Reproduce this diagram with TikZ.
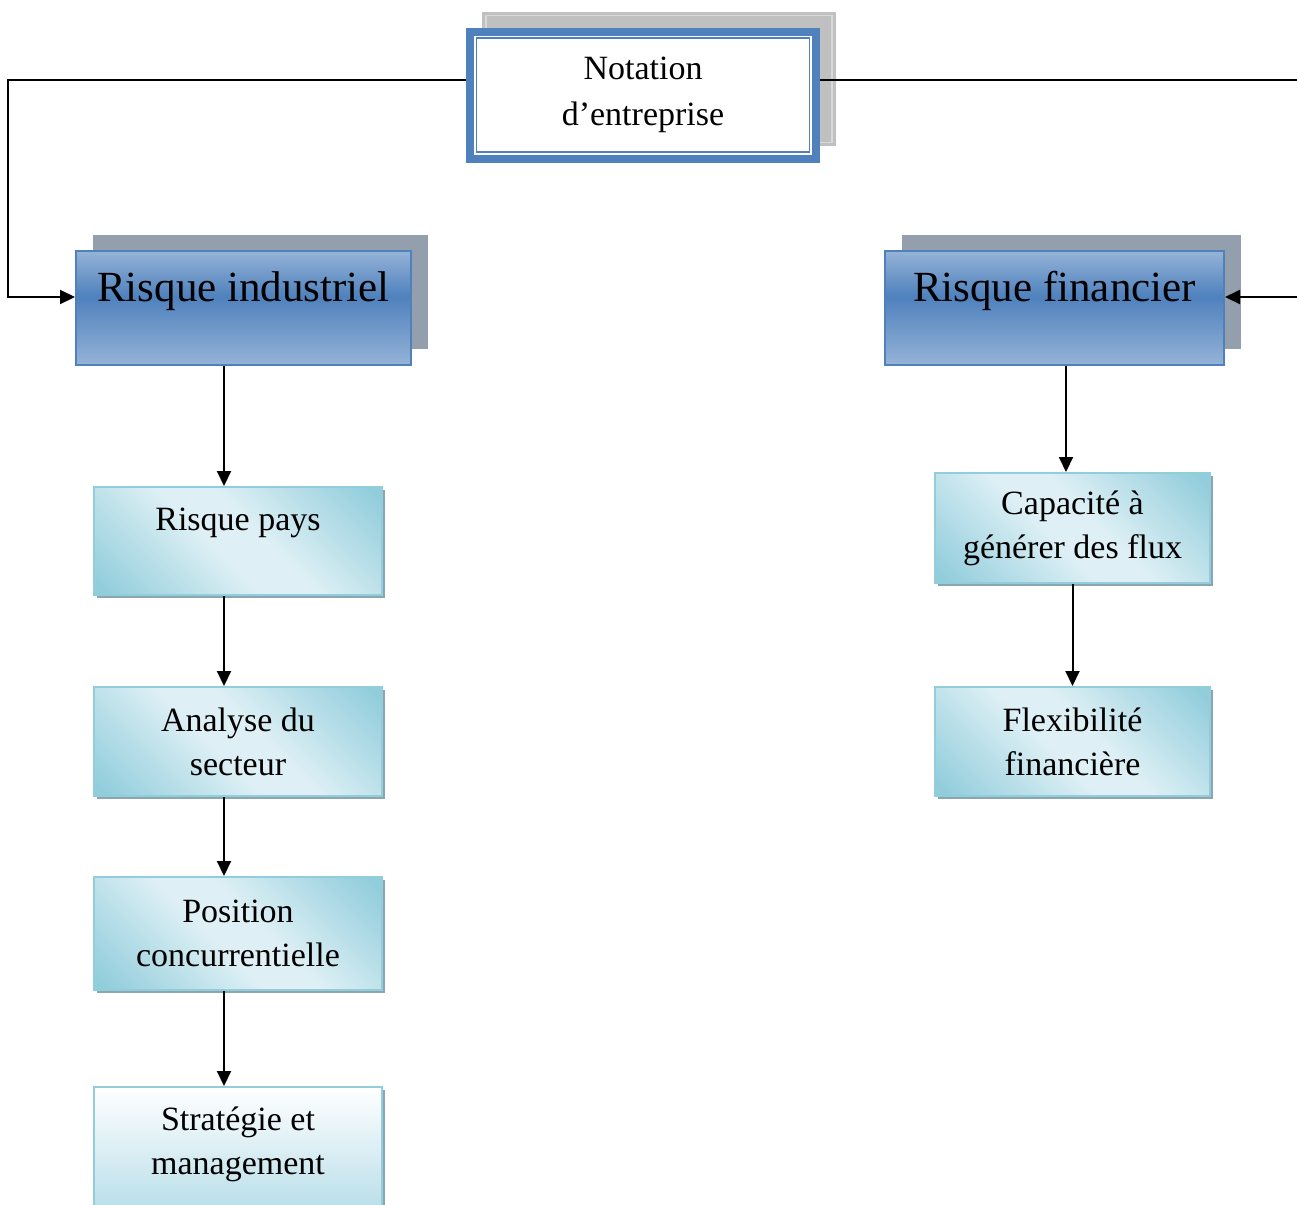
\documentclass[tikz,border=0pt]{standalone}
\usepackage{fontspec}
\setmainfont{Liberation Serif}
\usetikzlibrary{arrows.meta, shadows}

\definecolor{notblue}{RGB}{79,129,189}
\definecolor{steellight}{RGB}{149,179,215}
\definecolor{steeldark}{RGB}{79,129,189}
\definecolor{steelshadow}{RGB}{147,159,173}
\definecolor{aqualight}{RGB}{222,240,245}
\definecolor{aquadark}{RGB}{146,205,220}
\definecolor{aquaedge}{RGB}{146,205,220}
\definecolor{aquashadow}{RGB}{139,166,176}
\definecolor{aquapale}{RGB}{182,221,232}
\definecolor{framegray}{RGB}{192,192,192}
\definecolor{framelight}{RGB}{217,217,217}

\pgfdeclareverticalshading{steelband}{100bp}{color(0bp)=(steellight); color(25bp)=(steellight); color(55bp)=(steeldark); color(75bp)=(steellight); color(100bp)=(steellight)}
\pgfdeclareverticalshading{aquaband}{100bp}{color(0bp)=(aquadark); color(17bp)=(aquadark); color(45bp)=(aqualight); color(55bp)=(aqualight); color(83bp)=(aquadark); color(100bp)=(aquadark)}

\begin{document}
\begin{tikzpicture}[x=0.5pt, y=-0.5pt,
    link/.style={-{Triangle[length=7.5pt,width=7pt]}, line width=1pt},
    topbox/.style={draw=notblue, line width=4pt, fill=white, align=center,
        minimum width=173pt, minimum height=63.5pt,
        font=\fontsize{17}{23}\selectfont,
        general shadow={shadow xshift=8pt, shadow yshift=8pt, fill=framegray,
            draw=framegray, double=framelight, line width=1.6pt, double distance=0.75pt},
        path picture={\draw[notblue, line width=0.75pt]
            ([xshift=3.25pt,yshift=-3.25pt]path picture bounding box.north west) rectangle
            ([xshift=-3.25pt,yshift=3.25pt]path picture bounding box.south east);}},
    steelbox/.style={draw=notblue, line width=1pt, shading=steelband,
        minimum width=167.5pt, minimum height=57pt,
        text height=10pt, text depth=17pt,
        font=\fontsize{21.5}{26}\selectfont,
        general shadow={shadow xshift=8.5pt, shadow yshift=8pt, fill=steelshadow}},
    lightbox/.style={draw=aquaedge, line width=1pt, align=center,
        minimum width=144pt, font=\fontsize{17}{22}\selectfont,
        general shadow={shadow xshift=1.5pt, shadow yshift=-1.5pt, fill=aquashadow}},
    aquabox/.style={lightbox, shading=aquaband, shading angle=-45},
    palebox/.style={lightbox, top color=white, bottom color=aquapale}]

    \useasboundingbox (0,0) rectangle (1297,1205);

    \node[topbox] (NE) at (643,95) {Notation\\d’entreprise};

    \node[steelbox] (RI) at (243.5,308) {Risque industriel};
    \node[steelbox, minimum width=169.5pt] (RF) at (1054.5,308) {Risque financier};

    \node[aquabox, minimum height=54pt] (RP) at (238,541) {Risque pays\\\mbox{}};
    \node[aquabox, minimum height=54.5pt] (AS) at (238,741.5) {Analyse du\\secteur};
    \node[aquabox, minimum height=56.5pt] (PC) at (238,933.5) {Position\\concurrentielle};
    \node[palebox, minimum height=64pt] (SM) at (238,1151) {Stratégie et\\management\\[-11.5pt]\mbox{}};

    \node[aquabox, minimum width=137.5pt, minimum height=55pt] (CG) at (1072.5,528) {Capacité à\\générer des flux};
    \node[aquabox, minimum width=137.5pt, minimum height=54.5pt] (FF) at (1072.5,741.5) {Flexibilité\\financière};

    \coordinate (lbend) at (8,80);
    \coordinate (lfoot) at (8,297);
    \coordinate (rbend) at (1305,80);
    \coordinate (rfoot) at (1305,297);
    \coordinate (colL) at (224,0);
    \coordinate (colR) at (1066,0);

    \draw[link] (NE.west |- lbend) -- (lbend) -- (lfoot) -- (RI.west |- lfoot);
    \draw[link] (NE.east |- rbend) -- (rbend) -- (rfoot) -- (RF.east |- rfoot);

    \draw[link] (RI.south -| colL) -- (RP.north -| colL);
    \draw[link] (RP.south -| colL) -- (AS.north -| colL);
    \draw[link] (AS.south -| colL) -- (PC.north -| colL);
    \draw[link] (PC.south -| colL) -- (SM.north -| colL);

    \draw[link] (RF.south -| colR) -- (CG.north -| colR);
    \draw[link] (CG.south) -- (FF.north);
\end{tikzpicture}
\end{document}
